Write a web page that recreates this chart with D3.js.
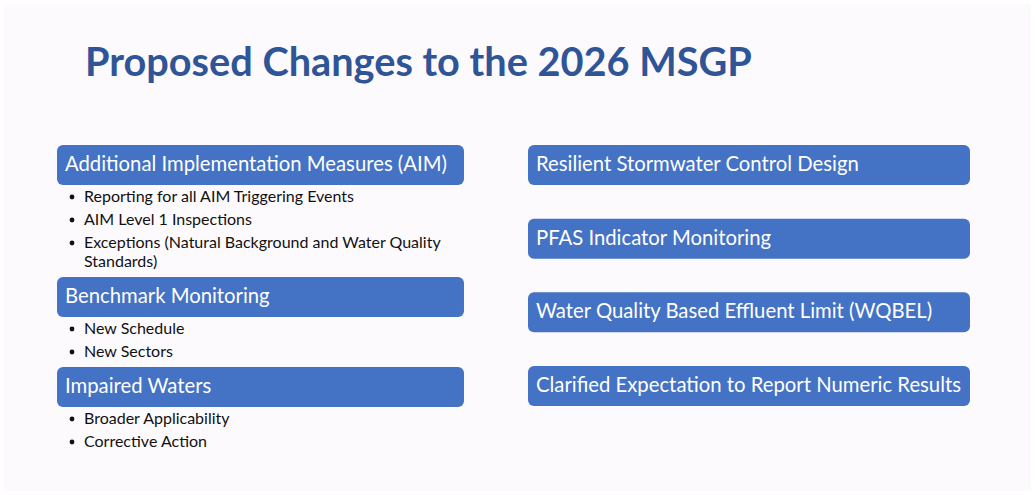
<!DOCTYPE html>
<html>
<head>
<meta charset="utf-8">
<script src="https://cdn.jsdelivr.net/npm/d3@7"></script>
<style>
  html, body { margin: 0; padding: 0; background: #ffffff; }
  svg { display: block; }
</style>
</head>
<body>
<svg id="slide"></svg>
<script>
const titleText = "Proposed Changes to the 2026 MSGP";

// left column: headings, each followed by its bullet points
const leftHeadings = ["Additional Implementation Measures (AIM)", "Benchmark Monitoring", "Impaired Waters"];
const leftBullets = [
    ["Reporting for all AIM Triggering Events", "AIM Level 1 Inspections", "Exceptions (Natural Background and Water Quality Standards)"],
    ["New Schedule", "New Sectors"],
    ["Broader Applicability", "Corrective Action"]
];

// right column: headings only
const rightHeadings = [
    "Resilient Stormwater Control Design",
    "PFAS Indicator Monitoring",
    "Water Quality Based Effluent Limit (WQBEL)",
    "Clarified Expectation to Report Numeric Results"
];

const width = 1035;
const height = 495;
const boxColor = "#4472c4";
const titleColor = "#2f5597";
const fontFamily = "Lato, 'Open Sans', sans-serif";
const headSize = "20.3px";
const bulletSize = "16px";
const boxH = 40;
const bulletGap = 23;   // new bullet
const wrapGap = 19;     // wrapped line inside a bullet

const svg = d3.select("#slide")
    .attr("width", width)
    .attr("height", height);

// slide background (slightly tinted, thin white frame round it)
svg.append("rect")
    .attr("x", 4).attr("y", 4)
    .attr("width", width - 8).attr("height", height - 8)
    .attr("fill", "#fdfafe");

// TITLE
svg.append("text")
    .attr("x", 85)
    .attr("y", 76)
    .attr("fill", titleColor)
    .style("font-family", fontFamily)
    .style("font-weight", "bold")
    .style("font-size", "39.7px")
    .text(titleText);

// columns
const leftX = d3.scaleLinear().domain([0, 1]).range([57, 464]);
const rightX = d3.scaleLinear().domain([0, 1]).range([528, 970]);

function drawBox(x0, x1, y, label) {
    svg.append("rect")
        .attr("x", x0)
        .attr("y", y)
        .attr("width", x1 - x0)
        .attr("height", boxH)
        .attr("rx", 6)
        .attr("fill", boxColor);
    svg.append("text")
        .attr("x", x0 + 8)
        .attr("y", y + 26)
        .attr("fill", "#ffffff")
        .style("font-family", fontFamily)
        .style("font-size", headSize)
        .text(label);
}

// split a bullet into lines that fit maxW
function wrapLines(str, maxW) {
    const probe = svg.append("text")
        .style("font-family", fontFamily)
        .style("font-size", bulletSize);
    const words = str.split(" ");
    const lines = [];
    let cur = "";
    for (const w of words) {
        const test = cur ? cur + " " + w : w;
        probe.text(test);
        if (probe.node().getComputedTextLength() > maxW && cur) {
            lines.push(cur);
            cur = w;
        } else {
            cur = test;
        }
    }
    if (cur) lines.push(cur);
    probe.remove();
    return lines;
}

// LEFT COLUMN - stacked, each box followed by its bullets
let y = 145;
leftHeadings.forEach(function (head, i) {
    drawBox(leftX(0), leftX(1), y, head);
    let base = y + boxH + 17;
    leftBullets[i].forEach(function (b, k) {
        if (k > 0) base += bulletGap;
        svg.append("circle")
            .attr("cx", leftX(0) + 15)
            .attr("cy", base - 5)
            .attr("r", 2.4)
            .attr("fill", "#111111");
        const lines = wrapLines(b, leftX(1) - leftX(0) - 27);
        lines.forEach(function (ln, m) {
            if (m > 0) base += wrapGap;
            svg.append("text")
                .attr("x", leftX(0) + 27)
                .attr("y", base)
                .attr("fill", "#111111")
                .style("font-family", fontFamily)
                .style("font-size", bulletSize)
                .text(ln);
        });
    });
    y = base + 10;
});

// RIGHT COLUMN - evenly spread boxes
const rightY = d3.scalePoint()
    .domain(rightHeadings)
    .range([145, 366]);

for (const head of rightHeadings) {
    drawBox(rightX(0), rightX(1), rightY(head), head);
}
</script>
</body>
</html>
